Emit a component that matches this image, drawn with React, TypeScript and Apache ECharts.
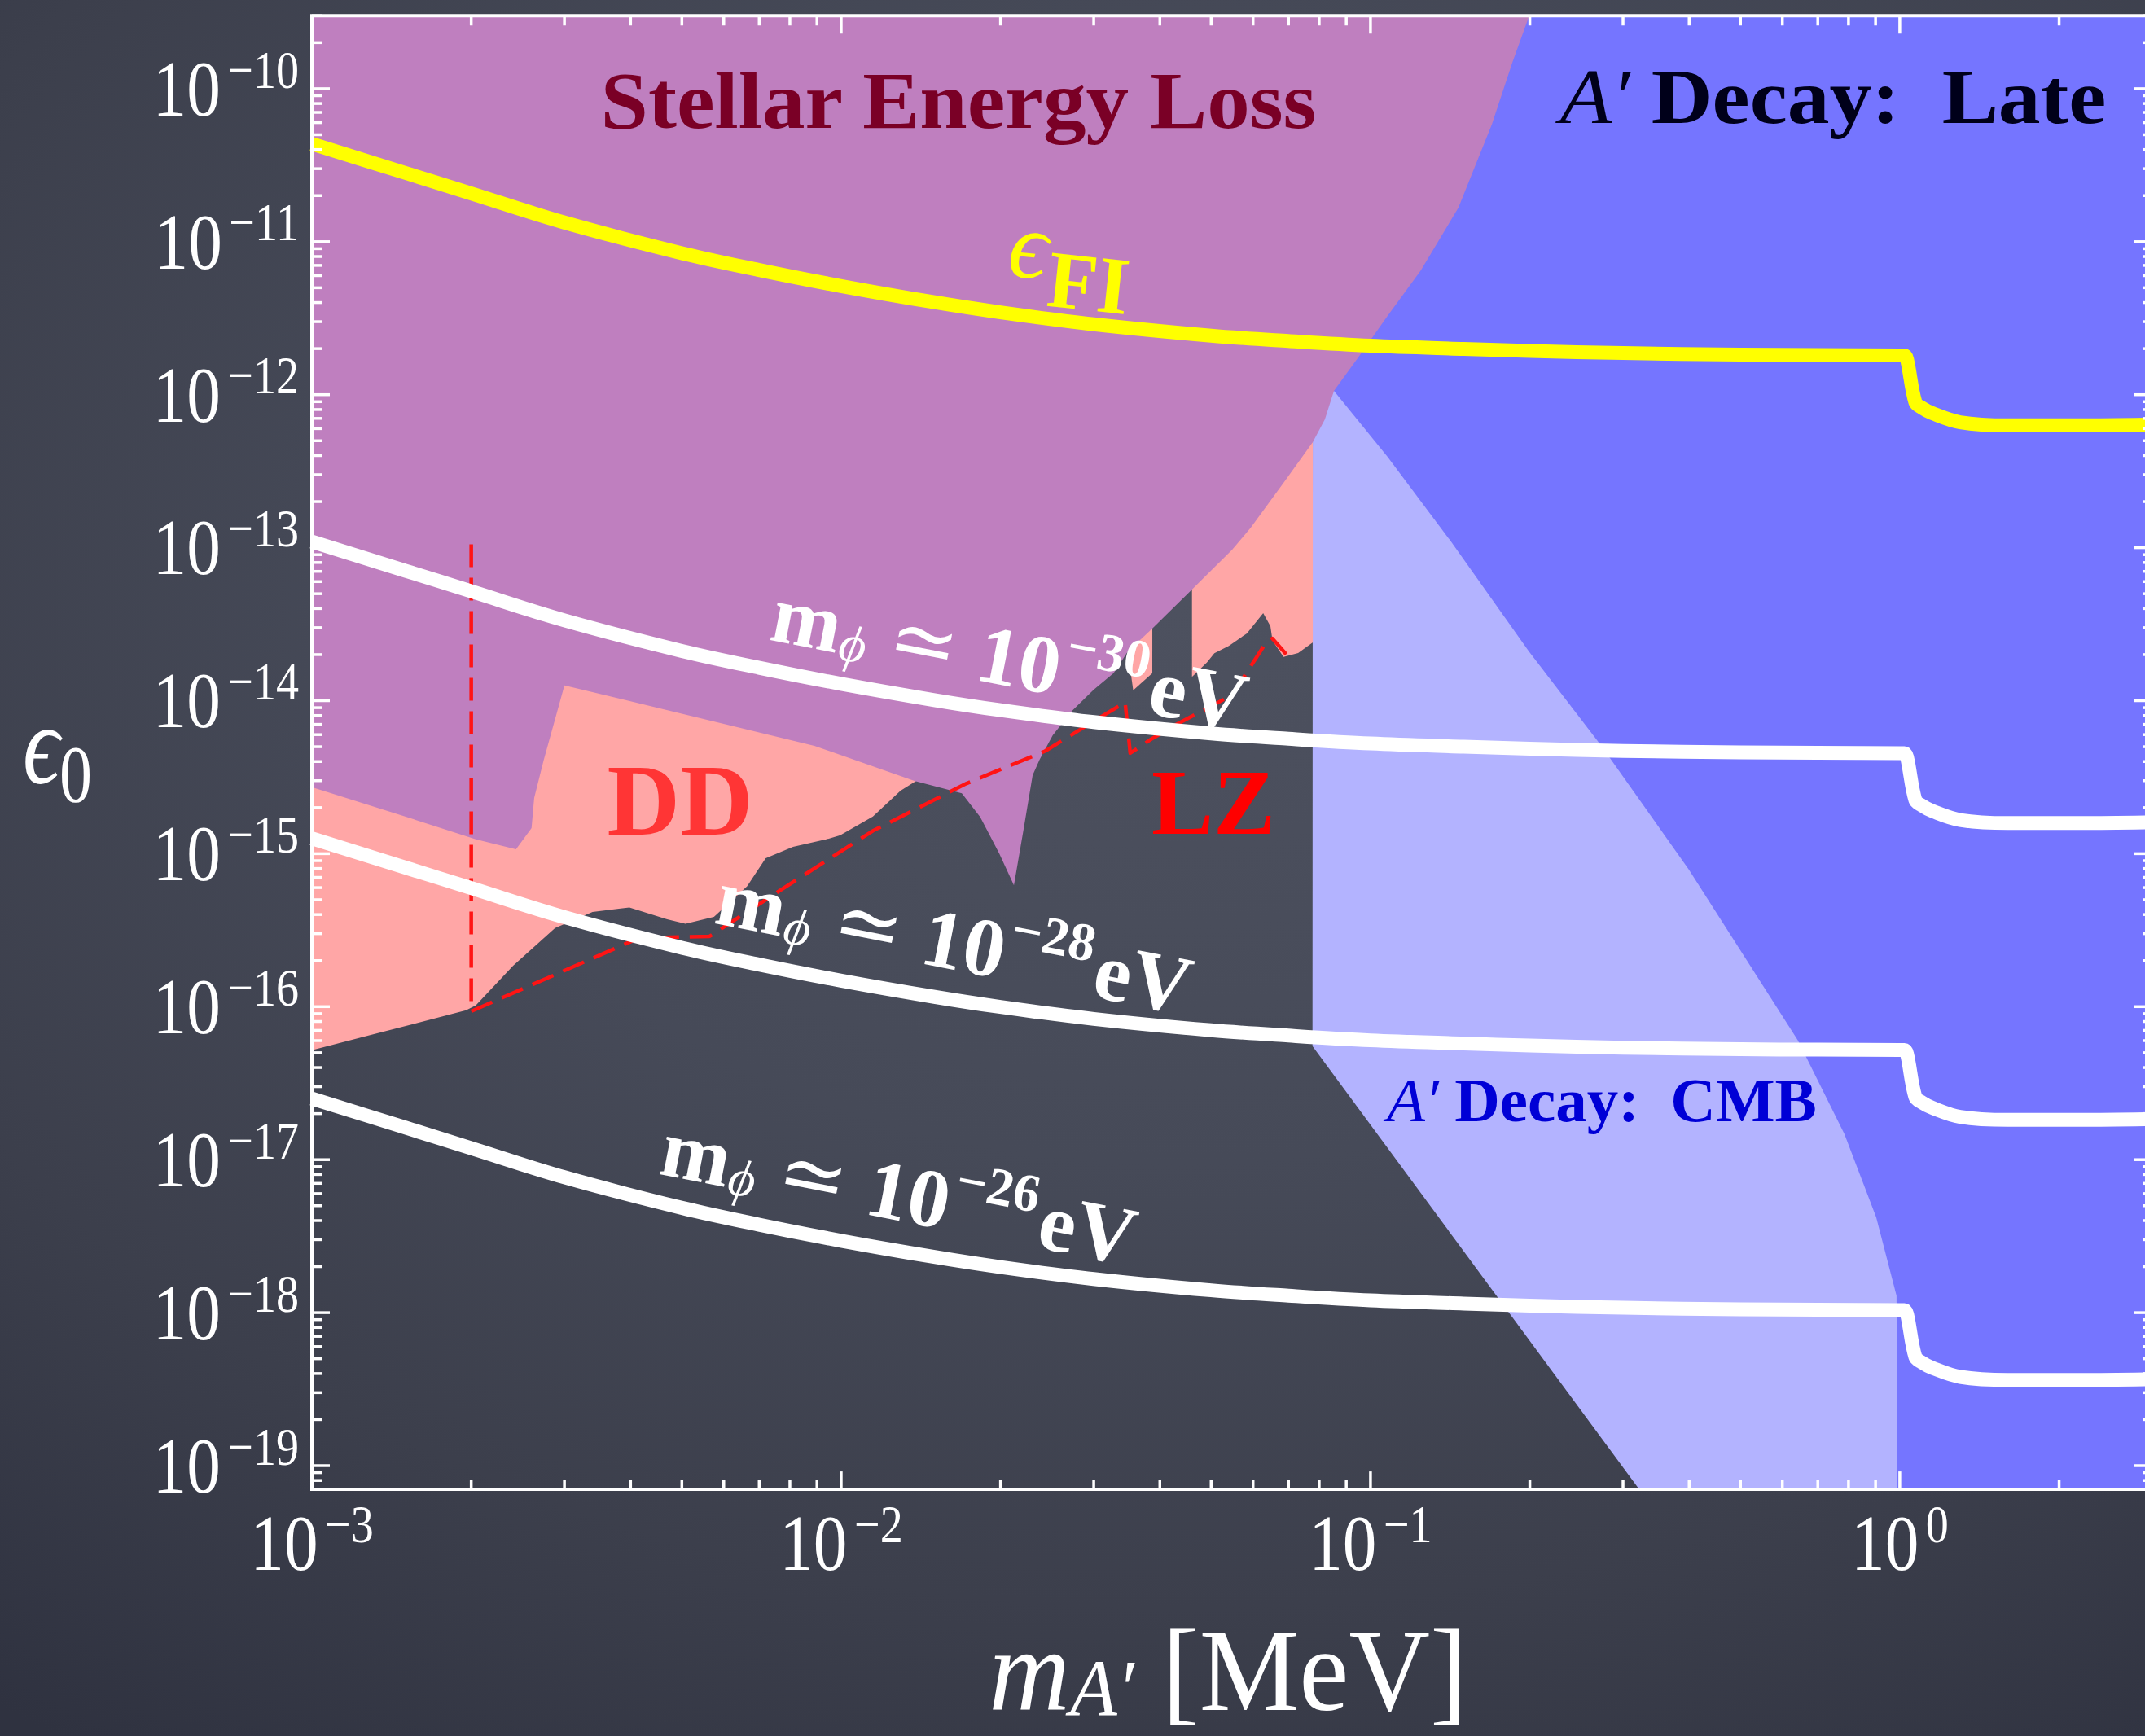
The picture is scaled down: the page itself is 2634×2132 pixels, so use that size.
import React, { useEffect, useRef } from 'react';
import * as echarts from 'echarts';

const SERIF = '"Liberation Serif", "DejaVu Serif", "Times New Roman", serif';

// ---------- axes ----------
const X_MIN = 1e-3;
const X_MAX = 3;
const Y_MIN = 7e-20;
const Y_MAX = 3e-10;

const xMajorTicks = [1e-3, 1e-2, 1e-1, 1];
const xMajorExponents = ['−3', '−2', '−1', '0'];
const yMajorTicks = [1e-19, 1e-18, 1e-17, 1e-16, 1e-15, 1e-14, 1e-13, 1e-12, 1e-11, 1e-10];
const yMajorExponents = ['−19', '−18', '−17', '−16', '−15', '−14', '−13', '−12', '−11', '−10'];

// ---------- theory curves (m_A' in MeV) ----------
const massGrid = [0.001, 0.0015, 0.002, 0.003, 0.005, 0.007, 0.01, 0.015, 0.02, 0.03, 0.05, 0.07, 0.1, 0.15, 0.2, 0.3, 0.5, 0.7, 1.0, 1.02, 1.032, 1.07, 1.1, 1.15, 1.3, 1.6, 2.2, 3.0];

const epsFreezeIn = [4.365e-11, 2.818e-11, 2.065e-11, 1.334e-11, 8.414e-12, 6.531e-12, 5.129e-12, 4.018e-12, 3.451e-12, 2.884e-12, 2.432e-12, 2.244e-12, 2.089e-12, 1.991e-12, 1.932e-12, 1.871e-12, 1.828e-12, 1.816e-12, 1.807e-12, 1.807e-12, 1.698e-12, 8.913e-13, 8.222e-13, 7.586e-13, 6.607e-13, 6.31e-13, 6.31e-13, 6.383e-13];
const epsMphi30 = [1.096e-13, 7.079e-14, 5.188e-14, 3.35e-14, 2.113e-14, 1.641e-14, 1.288e-14, 1.009e-14, 8.67e-15, 7.244e-15, 6.109e-15, 5.636e-15, 5.248e-15, 5.0e-15, 4.853e-15, 4.699e-15, 4.592e-15, 4.56e-15, 4.539e-15, 4.539e-15, 4.266e-15, 2.239e-15, 2.065e-15, 1.905e-15, 1.66e-15, 1.585e-15, 1.585e-15, 1.603e-15];
const epsMphi28 = [1.259e-15, 8.128e-16, 5.957e-16, 3.846e-16, 2.427e-16, 1.884e-16, 1.479e-16, 1.159e-16, 9.954e-17, 8.318e-17, 7.015e-17, 6.471e-17, 6.026e-17, 5.741e-17, 5.572e-17, 5.395e-17, 5.272e-17, 5.236e-17, 5.212e-17, 5.212e-17, 4.898e-17, 2.57e-17, 2.371e-17, 2.188e-17, 1.905e-17, 1.82e-17, 1.82e-17, 1.841e-17];
const epsMphi26 = [2.512e-17, 1.622e-17, 1.189e-17, 7.674e-18, 4.842e-18, 3.758e-18, 2.951e-18, 2.312e-18, 1.986e-18, 1.66e-18, 1.4e-18, 1.291e-18, 1.202e-18, 1.146e-18, 1.112e-18, 1.076e-18, 1.052e-18, 1.045e-18, 1.04e-18, 1.04e-18, 9.772e-19, 5.129e-19, 4.732e-19, 4.365e-19, 3.802e-19, 3.631e-19, 3.631e-19, 3.673e-19];

// ---------- dashed projections ----------
const ddEdgeMass = [0.002, 0.002];
const ddEdgeEps = [1.05e-13, 9.33e-17];
const lzProjMass = [0.002, 0.00415, 0.00564, 0.00764, 0.01148, 0.01726, 0.02427, 0.03053, 0.03439, 0.03516, 0.0387, 0.04318, 0.0548, 0.0632, 0.06527, 0.0695];
const lzProjEps = [9.33e-17, 2.81e-16, 2.88e-16, 5.71e-16, 1.41e-15, 2.88e-15, 4.68e-15, 7.62e-15, 9.75e-15, 4.54e-15, 5.66e-15, 7.06e-15, 1.09e-14, 2.34e-14, 2.55e-14, 1.99e-14];

// ---------- excluded regions [m (MeV), eps] ----------
const stellarLossRegion: number[][] = [
  [0.001, 3e-10], [0.1995, 3e-10], [0.1853, 1.48e-10], [0.1695, 5.82e-11], [0.1466, 1.67e-11], [0.1245, 6.5e-12],
  [0.1077, 3.27e-12], [0.0948, 1.75e-12], [0.0853, 1.06e-12], [0.082, 6.9e-13], [0.0778, 4.9e-13], [0.0685, 2.65e-13],
  [0.0594, 1.35e-13], [0.0548, 9.7e-14], [0.046, 5.33e-14], [0.0387, 2.96e-14], [0.0348, 2.1e-14], [0.0327, 1.51e-14],
  [0.03, 1.18e-14], [0.0273, 8.58e-15], [0.0251, 5.94e-15], [0.0237, 4.11e-15], [0.023, 3.26e-15], [0.0221, 1.43e-15],
  [0.0212, 6.22e-16], [0.0199, 1.0e-15], [0.0183, 1.74e-15], [0.0169, 2.48e-15], [0.01375, 2.99e-15], [0.0089, 5.07e-15],
  [0.003, 1.26e-14], [0.00274, 4.06e-15], [0.00263, 2.31e-15], [0.0026, 1.47e-15], [0.00243, 1.07e-15], [0.00204, 1.24e-15],
  [0.0015, 1.75e-15], [0.001, 2.72e-15],
];
const ddRegion: number[][] = [
  [0.001, 5.2e-17], [0.001955, 9.46e-17], [0.00204, 1.02e-16], [0.0024, 1.85e-16], [0.00288, 3.26e-16], [0.00339, 4.16e-16],
  [0.00398, 4.45e-16], [0.00469, 3.72e-16], [0.00508, 3.48e-16], [0.00575, 3.86e-16], [0.00664, 6.11e-16], [0.0072, 9.33e-16],
  [0.00811, 1.11e-15], [0.00937, 1.24e-15], [0.00996, 1.32e-15], [0.01148, 1.75e-15], [0.01295, 2.58e-15], [0.01406, 3.08e-15],
  [0.01406, 7.14e-14], [0.001, 7.14e-14],
];
const lzRegionMain: number[][] = [
  [0.046, 1.43e-14], [0.0491, 1.78e-14], [0.0507, 2.04e-14], [0.054, 2.28e-14], [0.0584, 2.75e-14], [0.0627, 3.73e-14],
  [0.0647, 3.07e-14], [0.0653, 2.47e-14], [0.0685, 1.93e-14], [0.073, 2.05e-14], [0.0778, 2.4e-14], [0.0778, 8.28e-13],
  [0.046, 8.28e-13],
];
const lzRegionSliver: number[][] = [
  [0.03479, 7.14e-14], [0.03479, 2.1e-14], [0.03562, 1.17e-14], [0.03871, 1.51e-14], [0.03871, 7.14e-14],
];
const cmbDecayRegion: number[][] = [
  [0.0778, 1.06e-12], [0.0853, 1.06e-12], [0.1077, 3.92e-13], [0.1413, 1.12e-13], [0.1992, 2.1e-14], [0.2721, 5.14e-15],
  [0.3995, 7.87e-16], [0.6423, 6.0e-17], [0.786, 1.47e-17], [0.9025, 4.2e-18], [0.9859, 1.29e-18], [0.9895, 7e-20],
  [0.3219, 7e-20], [0.0777, 5.52e-17],
];
const lateDecayRegion: number[][] = [
  [0.08894, 3e-10], [0.08231, 4.9e-13], [0.08231, 5.31e-17], [0.33, 7e-20], [3, 7e-20], [3, 3e-10],
];

const pairs = (xs: number[], ys: number[]) => xs.map((x, i) => [x, ys[i]]);

function regionSeries(points: number[][], color: string, z: number) {
  return {
    type: 'custom',
    coordinateSystem: 'cartesian2d',
    silent: true,
    clip: true,
    z,
    data: [[0.01, 1e-15]],
    renderItem: (_p: any, api: any) => ({
      type: 'polygon',
      shape: { points: points.map((p) => api.coord(p)) },
      style: { fill: color, stroke: null },
    }),
  };
}

function curveSeries(data: number[][], color: string, width: number, z: number, dashed = false, smooth: any = 0.35) {
  return {
    type: 'line',
    data,
    symbol: 'none',
    showSymbol: false,
    silent: true,
    smooth,
    z,
    lineStyle: { color, width, type: dashed ? [28, 13] : 'solid', cap: 'butt', join: 'round' },
  };
}

const tok = (size: number, o: any = {}) => ({
  fontSize: size,
  fontFamily: SERIF,
  fontWeight: o.bold ? 'bold' : 'normal',
  fontStyle: o.italic ? 'italic' : 'normal',
  fill: o.fill,
  padding: o.padding,
});

function axisSeries() {
  return {
    type: 'custom',
    coordinateSystem: 'cartesian2d',
    silent: true,
    clip: false,
    z: 60,
    data: [[0.01, 1e-15]],
    renderItem: (params: any, api: any) => {
      const cs = params.coordSys;
      const left = cs.x, top = cs.y, right = cs.x + cs.width, bottom = cs.y + cs.height;
      const ch: any[] = [];
      ch.push({ type: 'rect', shape: { x: left, y: top, width: cs.width, height: cs.height }, style: { fill: 'none', stroke: '#fff', lineWidth: 4 } });
      const seg = (x1: number, y1: number, x2: number, y2: number) =>
        ch.push({ type: 'line', shape: { x1, y1, x2, y2 }, style: { stroke: '#fff', lineWidth: 3.5 } });
      const xMinor: number[] = [];
      [1e-3, 1e-2, 1e-1, 1].forEach((d) => { for (let m = 2; m <= 9; m++) { if (m * d <= X_MAX * 1.0001) xMinor.push(m * d); } });
      const yMinor: number[] = [];
      for (let e = -20; e <= -10; e++) { for (let m = 2; m <= 9; m++) { const v = m * Math.pow(10, e); if (v >= Y_MIN * 0.999 && v <= Y_MAX * 1.001) yMinor.push(v); } }
      const xt = (v: number, len: number) => { const px = api.coord([v, Y_MIN])[0]; seg(px, bottom, px, bottom - len); seg(px, top, px, top + len); };
      const yt = (v: number, len: number) => { const py = api.coord([X_MIN, v])[1]; seg(left, py, left + len, py); seg(right, py, right - len, py); };
      xMinor.forEach((v) => xt(v, 12));
      xMajorTicks.forEach((v) => xt(v, 22));
      yMinor.forEach((v) => yt(v, 12));
      yMajorTicks.forEach((v) => yt(v, 22));
      const rich = {
        b: tok(98, { fill: '#fff' }),
        s: tok(66, { fill: '#fff', padding: [0, 0, 48, 10] }),
      };
      xMajorTicks.forEach((v, i) => {
        const px = api.coord([v, Y_MIN])[0];
        ch.push({ type: 'text', x: px, y: bottom + 66, scaleX: 0.85, style: { text: `{b|10}{s|${xMajorExponents[i]}}`, rich, align: 'center', verticalAlign: 'middle', fill: '#fff' } });
      });
      yMajorTicks.forEach((v, i) => {
        const py = api.coord([X_MIN, v])[1];
        ch.push({ type: 'text', x: left - 16, y: py, scaleX: 0.85, style: { text: `{b|10}{s|${yMajorExponents[i]}}`, rich, align: 'right', verticalAlign: 'middle', fill: '#fff' } });
      });
      return { type: 'group', children: ch };
    },
  };
}

function label(x: number, y: number, text: string, rich: any, o: any = {}) {
  return {
    type: 'text', x, y, z: 100, silent: true,
    rotation: o.rotation || 0, scaleX: o.scaleX || 1,
    style: { text, rich, align: o.align || 'center', verticalAlign: 'middle', fill: o.fill || '#fff' },
  };
}

function mphiLabel(x: number, y: number, exp: string) {
  const W = '#ffffff';
  return label(x, y, `{m|m}{p|ϕ}{r| ≃ }{n|10}{s|${exp}}{e|eV}`, {
    m: tok(102, { bold: true, fill: W }),
    p: tok(64, { italic: true, fill: W, padding: [40, 0, 0, 2] }),
    r: tok(102, { fill: W }),
    n: tok(102, { bold: true, fill: W }),
    s: tok(66, { bold: true, fill: W, padding: [0, 0, 60, 4] }),
    e: tok(102, { bold: true, fill: W, padding: [0, 0, 0, 6] }),
  }, { rotation: -0.192 });
}

function buildOption() {
  const texts = [
    label(1177, 123, '{a|Stellar Energy Loss}', { a: tok(100, { bold: true, fill: '#7a0026' }) }, { scaleX: 1.05 }),
    label(2251, 119, '{i|A′}{b| Decay:  Late}', { i: tok(96, { italic: true, fill: '#00001a' }), b: tok(96, { bold: true, fill: '#00001a' }) }, { scaleX: 1.08 }),
    label(1967, 1351, '{i|A′}{b| Decay:  CMB}', { i: tok(77, { italic: true, fill: '#0000d6' }), b: tok(77, { bold: true, fill: '#0000d6' }) }),
    label(835, 983, '{a|DD}', { a: tok(124, { bold: true, fill: '#ff3535' }) }),
    label(1490, 985, '{a|LZ}', { a: tok(114, { bold: true, fill: '#ff0000' }) }),
    label(1315, 307, '{e|ϵ}{f|FI}', { e: tok(118, { italic: true, fill: '#ffff00' }), f: tok(100, { bold: true, fill: '#ffff00', padding: [76, 0, 0, 4] }) }, { rotation: -0.105 }),
    mphiLabel(1240, 808, '−30'),
    mphiLabel(1172, 1156, '−28'),
    mphiLabel(1104, 1464, '−26'),
    label(28, 915, '{e|ϵ}{z|0}', { e: tok(140, { italic: true, fill: '#fff' }), z: tok(100, { fill: '#fff', padding: [70, 0, 0, 0] }) }, { align: 'left', scaleX: 0.8 }),
    label(1508, 2051, '{m|m}{a|A′}{u| [MeV]}', { m: tok(145, { italic: true, fill: '#fff' }), a: tok(100, { italic: true, fill: '#fff', padding: [44, 0, 0, 0] }), u: tok(145, { fill: '#fff' }) }, { scaleX: 0.95 }),
  ];

  return {
    animation: false,
    backgroundColor: 'transparent',
    grid: { left: 383, top: 19.25, width: 2260, height: 1809.85, show: false },
    xAxis: { type: 'log', logBase: 10, min: X_MIN, max: X_MAX, show: false, splitLine: { show: false } },
    yAxis: { type: 'log', logBase: 10, min: Y_MIN, max: Y_MAX, show: false, splitLine: { show: false } },
    series: [
      regionSeries(lateDecayRegion, '#7575ff', 2),
      regionSeries(cmbDecayRegion, '#b3b3ff', 3),
      regionSeries(ddRegion, '#ffa6a6', 4),
      regionSeries(lzRegionMain, '#ffa6a6', 4),
      regionSeries(lzRegionSliver, '#ffa6a6', 4),
      regionSeries(stellarLossRegion, '#bf7fbf', 5),
      curveSeries(pairs(ddEdgeMass, ddEdgeEps), '#ff1414', 4.5, 7, true, false),
      curveSeries(pairs(lzProjMass, lzProjEps), '#ff1414', 4.5, 7, true, false),
      curveSeries(pairs(massGrid, epsMphi30), '#ffffff', 17, 8),
      curveSeries(pairs(massGrid, epsMphi28), '#ffffff', 17, 8),
      curveSeries(pairs(massGrid, epsMphi26), '#ffffff', 17, 8),
      curveSeries(pairs(massGrid, epsFreezeIn), '#ffff00', 17, 9),
      axisSeries(),
    ],
    graphic: { elements: texts },
  };
}

export default function App() {
  const ref = useRef<HTMLDivElement>(null);
  useEffect(() => {
    if (!ref.current) return;
    const chart = echarts.init(ref.current, undefined, { renderer: 'svg' });
    chart.setOption(buildOption() as any);
    return () => chart.dispose();
  }, []);
  return (
    <div
      style={{
        position: 'absolute', left: 0, top: 0, width: 2634, height: 2132, overflow: 'hidden',
        background: 'radial-gradient(ellipse 90% 80% at 55% 35%, #4d515f 0%, #464a58 40%, #3c3f4c 72%, #2f3240 100%)',
      }}
    >
      <div ref={ref} style={{ width: 2660, height: 2132 }} />
    </div>
  );
}
